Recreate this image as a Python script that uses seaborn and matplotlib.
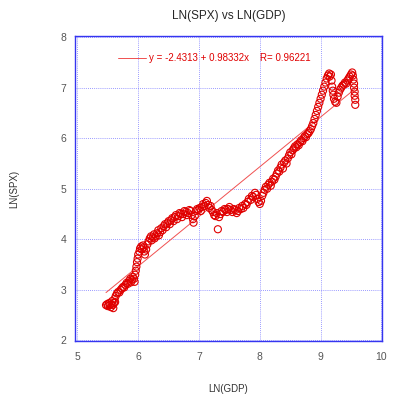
import numpy as np
import pandas as pd
import matplotlib
matplotlib.use("Agg")
import matplotlib.pyplot as plt
import seaborn as sns

# ---- data ----
ln_gdp = [5.47, 5.49, 5.50, 5.52, 5.53, 5.55, 5.56, 5.57, 5.58, 5.59, 5.60, 5.61, 5.62, 5.63,
          5.65, 5.67, 5.69, 5.71, 5.73, 5.75, 5.77, 5.79, 5.81, 5.83, 5.85, 5.87, 5.88, 5.90,
          5.91, 5.93, 5.94, 5.95, 5.96, 5.97, 5.98, 5.99, 6.00, 6.02, 6.03, 6.05, 6.06, 6.08,
          6.09, 6.10, 6.11, 6.13, 6.15, 6.17, 6.19, 6.21, 6.22, 6.24, 6.26, 6.27, 6.29, 6.31,
          6.33, 6.34, 6.36, 6.38, 6.40, 6.42, 6.44, 6.46, 6.48, 6.50, 6.52, 6.54, 6.56, 6.58,
          6.60, 6.62, 6.64, 6.66, 6.68, 6.70, 6.72, 6.74, 6.76, 6.78, 6.80, 6.82, 6.84, 6.86,
          6.88, 6.90, 6.91, 6.93, 6.95, 6.97, 6.99, 7.01, 7.03, 7.05, 7.07, 7.09, 7.11, 7.13,
          7.15, 7.17, 7.19, 7.21, 7.23, 7.25, 7.27, 7.29, 7.31, 7.33, 7.35, 7.37, 7.39, 7.42,
          7.44, 7.46, 7.48, 7.50, 7.52, 7.55, 7.57, 7.60, 7.62, 7.64, 7.66, 7.69, 7.71, 7.73,
          7.76, 7.78, 7.80, 7.82, 7.85, 7.87, 7.89, 7.92, 7.94, 7.96, 7.98, 8.00, 8.02, 8.04,
          8.06, 8.08, 8.10, 8.12, 8.14, 8.16, 8.18, 8.20, 8.22, 8.24, 8.26, 8.28, 8.30, 8.32,
          8.34, 8.36, 8.38, 8.40, 8.42, 8.44, 8.46, 8.48, 8.50, 8.52, 8.54, 8.56, 8.58, 8.60,
          8.62, 8.64, 8.66, 8.68, 8.70, 8.72, 8.74, 8.76, 8.78, 8.80, 8.82, 8.84, 8.86, 8.88,
          8.90, 8.92, 8.94, 8.96, 8.98, 9.00, 9.02, 9.04, 9.06, 9.08, 9.10, 9.12, 9.14, 9.15,
          9.17, 9.18, 9.19, 9.20, 9.21, 9.22, 9.24, 9.26, 9.28, 9.30, 9.32, 9.34, 9.36, 9.38,
          9.40, 9.42, 9.44, 9.46, 9.48, 9.50, 9.52, 9.53, 9.54, 9.55, 9.55, 9.56, 9.56, 9.57,
          9.57]
ln_spx = [2.70, 2.72, 2.68, 2.74, 2.70, 2.66, 2.72, 2.78, 2.70, 2.64, 2.74, 2.82, 2.76, 2.88,
          2.93, 2.96, 2.95, 3.00, 3.03, 3.06, 3.05, 3.10, 3.14, 3.12, 3.18, 3.22, 3.15, 3.20,
          3.26, 3.22, 3.16, 3.30, 3.38, 3.46, 3.55, 3.62, 3.70, 3.76, 3.82, 3.86, 3.80, 3.88,
          3.84, 3.76, 3.70, 3.80, 3.90, 3.96, 4.02, 4.06, 3.98, 4.04, 4.10, 4.02, 4.06, 4.12,
          4.18, 4.08, 4.14, 4.22, 4.18, 4.26, 4.30, 4.24, 4.32, 4.36, 4.30, 4.38, 4.42, 4.36,
          4.44, 4.48, 4.40, 4.46, 4.52, 4.50, 4.44, 4.50, 4.56, 4.54, 4.48, 4.52, 4.58, 4.56,
          4.48, 4.40, 4.33, 4.46, 4.56, 4.60, 4.58, 4.62, 4.56, 4.64, 4.70, 4.66, 4.72, 4.76,
          4.68, 4.62, 4.66, 4.58, 4.54, 4.48, 4.46, 4.52, 4.20, 4.44, 4.50, 4.56, 4.54, 4.60,
          4.58, 4.54, 4.60, 4.64, 4.58, 4.54, 4.60, 4.58, 4.52, 4.56, 4.62, 4.60, 4.66, 4.62,
          4.70, 4.68, 4.74, 4.80, 4.78, 4.86, 4.84, 4.92, 4.88, 4.80, 4.74, 4.70, 4.76, 4.86,
          4.92, 4.98, 5.04, 5.00, 5.08, 5.12, 5.06, 5.14, 5.20, 5.18, 5.24, 5.30, 5.36, 5.34,
          5.42, 5.48, 5.40, 5.52, 5.56, 5.50, 5.60, 5.66, 5.72, 5.68, 5.76, 5.80, 5.84, 5.82,
          5.88, 5.86, 5.92, 5.96, 5.94, 6.00, 6.04, 6.02, 6.08, 6.10, 6.14, 6.18, 6.24, 6.30,
          6.38, 6.46, 6.54, 6.62, 6.70, 6.78, 6.86, 6.94, 7.02, 7.10, 7.18, 7.24, 7.28, 7.22,
          7.26, 7.14, 7.02, 6.94, 6.86, 6.78, 6.72, 6.70, 6.82, 6.90, 6.96, 7.00, 7.04, 7.06,
          7.10, 7.08, 7.14, 7.18, 7.22, 7.26, 7.30, 7.24, 7.16, 7.08, 7.00, 6.92, 6.84, 6.76,
          6.66]

intercept = -2.4313
slope = 0.98332
r_value = 0.96221

x_ticks = [5, 6, 7, 8, 9, 10]
y_ticks = [2, 3, 4, 5, 6, 7, 8]

df = pd.DataFrame({"ln_gdp": ln_gdp, "ln_spx": ln_spx})
fit_x = np.array([min(ln_gdp), max(ln_gdp)])
fit = pd.DataFrame({"x": fit_x, "y": intercept + slope * fit_x})

sns.set_style("white")
plt.rcParams["font.family"] = ["Liberation Sans", "DejaVu Sans"]

fig = plt.figure(figsize=(4.0, 3.95), dpi=100)
ax = fig.add_axes([0.1875, 0.1367, 0.7675, 0.772])

red = "#e00000"
label = "y = -2.4313 + 0.98332x    R= %.5f" % r_value
sns.lineplot(data=fit, x="x", y="y", ax=ax, color="#f05050", linewidth=0.7, label=label)
sns.scatterplot(data=df, x="ln_gdp", y="ln_spx", ax=ax, marker="o", s=26,
                facecolor="none", edgecolor=red, linewidth=0.8, zorder=3)

ax.set_xlim(4.96, 10.01)
ax.set_ylim(1.99, 8.02)
ax.set_xticks(x_ticks)
ax.set_yticks(y_ticks)
ax.grid(True, color="#7a7aff", linestyle=(0, (1, 1.5)), linewidth=0.6)
for s in ax.spines.values():
    s.set_color("#3535f0")
    s.set_linewidth(1.0)
ax.tick_params(length=0, labelsize=7.5, labelcolor="#555555")
ax.tick_params(axis="x", pad=8)
ax.tick_params(axis="y", pad=6)

ax.set_title("LN(SPX) vs LN(GDP)", fontsize=8.5, pad=12)
ax.set_xlabel("LN(GDP)", fontsize=7, color="#333333", labelpad=16)
ax.set_ylabel("LN(SPX)", fontsize=7, color="#333333", labelpad=30)

leg = ax.legend(loc="center left", bbox_to_anchor=(0.14, 0.928), frameon=False,
                fontsize=7, labelcolor=red, handlelength=2.9, handletextpad=0.3,
                borderpad=0, borderaxespad=0)

fig.savefig("out.png", dpi=100)
